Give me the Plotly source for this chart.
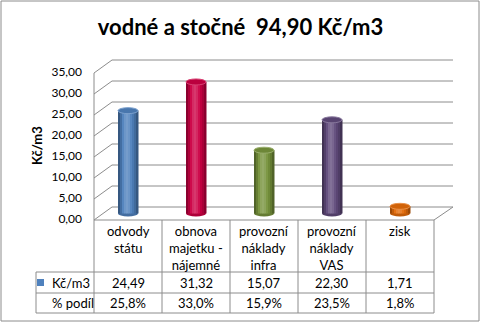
import plotly.graph_objects as go

# ---------------- data ----------------
TITLE = "vodné a stočné  94,90 Kč/m3"
CATEGORIES = ["odvody<br>státu", "obnova<br>majetku -<br>nájemné",
              "provozní<br>náklady<br>infra", "provozní<br>náklady<br>VAS", "zisk"]
VALUES = [24.49, 31.32, 15.07, 22.30, 1.71]
SHARE_PCT = [25.8, 33.0, 15.9, 23.5, 1.8]
SERIES_NAME = "Kč/m3"
SHARE_LABEL = "% podíl"
Y_TITLE = "Kč/m3"
Y_TICKS = [0, 5, 10, 15, 20, 25, 30, 35]

# ---------------- style ----------------
COLORS = ["#4f81bd", "#cc0044", "#77933c", "#604a7b", "#e46c0a"]
GRID = "#8c8c8c"
FONT = "Lato"
W_PX, H_PX = 481, 324

# layout geometry (pixels)
CX0, DX = 128, 68            # first category centre, category spacing
K = 4.2                      # pixels per unit
BAR_BASE = 213.5             # y of value 0 at mid depth (bars)
FRONT_BASE = 220             # y of value 0 on front plane
BACK_BASE = 207              # y of value 0 on back wall
FRONT_L, BACK_L = 94, 112    # left edges front / back
BACK_R = 453
FRONT_R = CX0 - DX / 2 + len(VALUES) * DX
LEG_L = 36
ROW_Y = [FRONT_BASE, 272, 293, 313]
BAR_W = 20 / DX


def px(x):
    return x / W_PX


def py(y):
    return 1 - y / H_PX


def shade(hexc, f):
    r, g, b = (int(hexc[i:i + 2], 16) for i in (1, 3, 5))
    if f >= 0:
        r, g, b = (c + (255 - c) * f for c in (r, g, b))
    else:
        r, g, b = (c * (1 + f) for c in (r, g, b))
    return "rgb(%d,%d,%d)" % (r, g, b)


def fmt(v, d=2):
    return ("%.*f" % (d, v)).replace(".", ",")


fig = go.Figure()
idx = list(range(len(VALUES)))

# cylinder bodies as overlaid stripes
PROFILE = [-0.32, -0.14, 0.04, 0.17, 0.22, 0.16, 0.05, -0.06, -0.17, -0.32]
N = len(PROFILE)
for k, f in enumerate(PROFILE):
    fig.add_trace(go.Bar(
        x=idx, y=VALUES, base=0,
        width=BAR_W / N * 1.25, offset=-BAR_W / 2 + k * BAR_W / N,
        marker=dict(color=[shade(c, f) for c in COLORS], line=dict(width=0)),
        showlegend=False, hoverinfo="skip"))

# invisible trace carrying the front value axis
fig.add_trace(go.Scatter(x=idx, y=VALUES, yaxis="y2", mode="markers",
                         marker=dict(opacity=0), showlegend=False, hoverinfo="skip"))

shapes = []
line = dict(color=GRID, width=1)
# back wall gridlines + diagonal connectors
for t in Y_TICKS:
    yb = BACK_BASE - K * t
    yf = FRONT_BASE - K * t
    shapes.append(dict(type="line", xref="paper", yref="paper", layer="below",
                       x0=px(BACK_L), x1=px(BACK_R), y0=py(yb), y1=py(yb), line=line))
    shapes.append(dict(type="line", xref="paper", yref="paper", layer="below",
                       x0=px(FRONT_L), x1=px(BACK_L), y0=py(yf), y1=py(yb), line=line))
top_v = Y_TICKS[-1]
# front axis line
shapes.append(dict(type="line", xref="paper", yref="paper", layer="below",
                   x0=px(FRONT_L), x1=px(FRONT_L),
                   y0=py(FRONT_BASE - K * top_v), y1=py(FRONT_BASE), line=line))
# floor right edge
shapes.append(dict(type="line", xref="paper", yref="paper", layer="below",
                   x0=px(FRONT_R), x1=px(BACK_R), y0=py(FRONT_BASE), y1=py(BACK_BASE), line=line))

# cylinder bottoms and tops
EH = 6 / K
for i, (v, c) in enumerate(zip(VALUES, COLORS)):
    shapes.append(dict(type="circle", xref="x", yref="y", layer="below",
                       x0=i - BAR_W / 2, x1=i + BAR_W / 2, y0=-EH / 2, y1=EH / 2,
                       fillcolor=shade(c, -0.15), line=dict(width=0)))
    shapes.append(dict(type="circle", xref="x", yref="y", layer="above",
                       x0=i - BAR_W / 2, x1=i + BAR_W / 2, y0=v - EH / 2, y1=v + EH / 2,
                       fillcolor=shade(c, -0.08), line=dict(color=shade(c, 0.25), width=1)))

# data table grid
col_edges = [CX0 - DX / 2 + i * DX for i in range(len(VALUES) + 1)]
for j, y in enumerate(ROW_Y):
    x0 = FRONT_L if j == 0 else LEG_L
    shapes.append(dict(type="line", xref="paper", yref="paper",
                       x0=px(x0), x1=px(FRONT_R), y0=py(y), y1=py(y), line=line))
for x in col_edges:
    shapes.append(dict(type="line", xref="paper", yref="paper",
                       x0=px(x), x1=px(x), y0=py(ROW_Y[0]), y1=py(ROW_Y[-1]), line=line))
shapes.append(dict(type="line", xref="paper", yref="paper",
                   x0=px(LEG_L), x1=px(LEG_L), y0=py(ROW_Y[1]), y1=py(ROW_Y[-1]), line=line))
# legend key
shapes.append(dict(type="rect", xref="paper", yref="paper",
                   x0=px(37), x1=px(44), y0=py(286), y1=py(279),
                   fillcolor=COLORS[0], line=dict(width=0)))
# chart border
shapes.append(dict(type="rect", xref="paper", yref="paper",
                   x0=px(1), x1=px(W_PX - 2), y0=py(1), y1=py(H_PX - 3),
                   line=dict(color=GRID, width=1)))

annotations = []
tfont = dict(family=FONT, size=13, color="#000")
for i, cat in enumerate(CATEGORIES):
    cx = CX0 + i * DX
    annotations.append(dict(xref="paper", yref="paper", x=px(cx), y=py(221),
                            xanchor="center", yanchor="top", text=cat, showarrow=False,
                            font=tfont, align="center"))
    annotations.append(dict(xref="paper", yref="paper", x=px(cx), y=py((ROW_Y[1] + ROW_Y[2]) / 2),
                            xanchor="center", yanchor="middle", text=fmt(VALUES[i]),
                            showarrow=False, font=tfont))
    annotations.append(dict(xref="paper", yref="paper", x=px(cx), y=py((ROW_Y[2] + ROW_Y[3]) / 2),
                            xanchor="center", yanchor="middle", text=fmt(SHARE_PCT[i], 1) + "%",
                            showarrow=False, font=tfont))
annotations.append(dict(xref="paper", yref="paper", x=px(50), y=py((ROW_Y[1] + ROW_Y[2]) / 2),
                        xanchor="left", yanchor="middle", text=SERIES_NAME, showarrow=False, font=tfont))
annotations.append(dict(xref="paper", yref="paper", x=px(50), y=py((ROW_Y[2] + ROW_Y[3]) / 2),
                        xanchor="left", yanchor="middle", text=SHARE_LABEL, showarrow=False, font=tfont))
annotations.append(dict(xref="paper", yref="paper", x=px(37), y=py(146),
                        xanchor="center", yanchor="middle", text="<b>%s</b>" % Y_TITLE,
                        textangle=-90, showarrow=False, font=dict(family=FONT, size=13, color="#000")))

fig.update_layout(
    width=W_PX, height=H_PX, margin=dict(l=0, r=0, t=0, b=0, pad=0),
    paper_bgcolor="white", plot_bgcolor="white",
    barmode="overlay", separators=", ",
    title=dict(text="<b>%s</b>" % TITLE, x=0.5, xanchor="center", xref="paper",
               y=py(27), yanchor="middle", yref="paper",
               font=dict(family=FONT, size=22, color="#000")),
    xaxis=dict(range=[-CX0 / DX, (W_PX - CX0) / DX], domain=[0, 1], visible=False, fixedrange=True),
    yaxis=dict(range=[(BAR_BASE - H_PX) / K, BAR_BASE / K], domain=[0, 1], visible=False, fixedrange=True),
    yaxis2=dict(range=[(FRONT_BASE - 1.5 - H_PX) / K, (FRONT_BASE - 1.5) / K], overlaying="y",
                anchor="free", position=px(FRONT_L), side="left",
                tickvals=Y_TICKS, tickformat=".2f", showgrid=False, zeroline=False,
                showline=False, ticks="", ticklabelstandoff=12,
                tickfont=dict(family=FONT, size=12, color="#000"), fixedrange=True),
    shapes=shapes, annotations=annotations, showlegend=False,
)

fig.write_html("out.html")
